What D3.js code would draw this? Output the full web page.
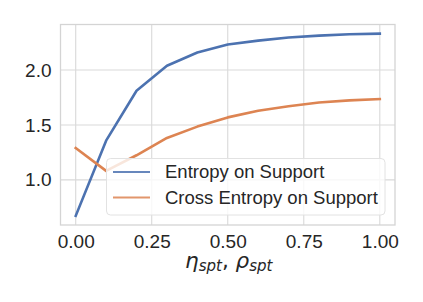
<!DOCTYPE html>
<html>
<head>
<meta charset="utf-8">
<script src="https://cdn.jsdelivr.net/npm/d3@7"></script>
<style>
	body { margin: 0; background: #fff; }
	text { font-family: "Liberation Sans", Arial, sans-serif; fill: #262626; }
</style>
</head>
<body>
<div id="chart"></div>
<script>
const xValues = [0, 0.1, 0.2, 0.3, 0.4, 0.5, 0.6, 0.7, 0.8, 0.9, 1.0];
const entropyValues = [0.672, 1.357, 1.812, 2.039, 2.160, 2.233, 2.268, 2.296, 2.314, 2.326, 2.332];
const crossEntropyValues = [1.290, 1.082, 1.224, 1.382, 1.485, 1.569, 1.630, 1.670, 1.705, 1.724, 1.736];
const seriesNames = ["Entropy on Support", "Cross Entropy on Support"];
const xTicks = [0, 0.25, 0.5, 0.75, 1.0];
const yTicks = [1.0, 1.5, 2.0];

const W = 423, H = 302;
const margin = {top: 24.5, right: 28, bottom: 77, left: 60.5},
	  width = W - margin.left - margin.right,
	  height = H - margin.top - margin.bottom;

const colors = ["#4c72b0", "#dd8452"];

const svg = d3.select("#chart")
	.append("svg")
	.attr("width", W)
	.attr("height", H)
	.append("g")
	.attr("transform", "translate(" + margin.left + "," + margin.top + ")");

// matplotlib style 5% margins on both axes
const allY = entropyValues.concat(crossEntropyValues);
const xExt = d3.extent(xValues), yExt = d3.extent(allY);
const xPad = (xExt[1] - xExt[0]) * 0.05, yPad = (yExt[1] - yExt[0]) * 0.05;

let xScale = d3.scaleLinear()
	.domain([xExt[0] - xPad, xExt[1] + xPad])
	.range([0, width]);
let yScale = d3.scaleLinear()
	.domain([yExt[0] - yPad, yExt[1] + yPad])
	.range([height, 0]);

// grid
svg.append("g")
	.selectAll("line.vx")
	.data(xTicks)
	.enter().append("line")
	.attr("x1", d => xScale(d)).attr("x2", d => xScale(d))
	.attr("y1", 0).attr("y2", height)
	.attr("stroke", "#d9d9d9").attr("stroke-width", 1.1);
svg.append("g")
	.selectAll("line.hy")
	.data(yTicks)
	.enter().append("line")
	.attr("x1", 0).attr("x2", width)
	.attr("y1", d => yScale(d)).attr("y2", d => yScale(d))
	.attr("stroke", "#d9d9d9").attr("stroke-width", 1.1);

// frame
svg.append("rect")
	.attr("width", width).attr("height", height)
	.attr("fill", "none")
	.attr("stroke", "#d4d4d4")
	.attr("stroke-width", 1.3);

// axes (labels only)
const xAxis = svg.append("g")
	.attr("transform", "translate(0," + height + ")")
	.call(d3.axisBottom(xScale).tickValues(xTicks).tickFormat(d3.format(".2f")).tickSize(0).tickPadding(10));
const yAxis = svg.append("g")
	.call(d3.axisLeft(yScale).tickValues(yTicks).tickFormat(d3.format(".1f")).tickSize(0).tickPadding(9));
[xAxis, yAxis].forEach(a => {
	a.select(".domain").remove();
	a.selectAll("text")
		.attr("font-size", 19)
		.attr("font-family", null)
		.attr("fill", "#262626");
});

// lines
const line = d3.line()
	.x((d, i) => xScale(xValues[i]))
	.y(d => yScale(d));
[entropyValues, crossEntropyValues].forEach((vals, k) => {
	svg.append("path")
		.attr("d", line(vals))
		.attr("fill", "none")
		.attr("stroke", colors[k])
		.attr("stroke-width", 2.6)
		.attr("stroke-linejoin", "round")
		.attr("stroke-linecap", "square");
});

// legend
const lg = svg.append("g").attr("transform", "translate(" + (106.5 - margin.left) + "," + (158.5 - margin.top) + ")");
lg.append("rect")
	.attr("width", 278.5).attr("height", 56.5)
	.attr("rx", 4).attr("ry", 4)
	.attr("fill", "#fff").attr("fill-opacity", 0.8)
	.attr("stroke", "#e2e2e2").attr("stroke-width", 1);
seriesNames.forEach((name, k) => {
	const y = 13.5 + k * 25.5;
	lg.append("line")
		.attr("x1", 6.5).attr("x2", 43.5)
		.attr("y1", y).attr("y2", y)
		.attr("stroke", colors[k]).attr("stroke-width", 2.2)
		.attr("stroke-opacity", 0.85);
	lg.append("text")
		.attr("x", 58.5).attr("y", y)
		.attr("dy", "0.35em")
		.attr("font-size", 18.5)
		.text(name);
});

// x label (mathtext-like)
const xl = svg.append("text")
	.attr("x", width / 2 + 1)
	.attr("y", 243.5)
	.attr("text-anchor", "middle")
	.style("font-family", "'DejaVu Sans', sans-serif")
	.style("font-style", "italic")
	.style("font-size", "21.5px");
xl.append("tspan").text("η");
xl.append("tspan").style("font-size", "15px").attr("dy", 3).text("spt");
xl.append("tspan").attr("dy", -3).style("font-style", "normal").text(", ");
xl.append("tspan").text("ρ");
xl.append("tspan").style("font-size", "15px").attr("dy", 3).text("spt");
</script>
</body>
</html>
